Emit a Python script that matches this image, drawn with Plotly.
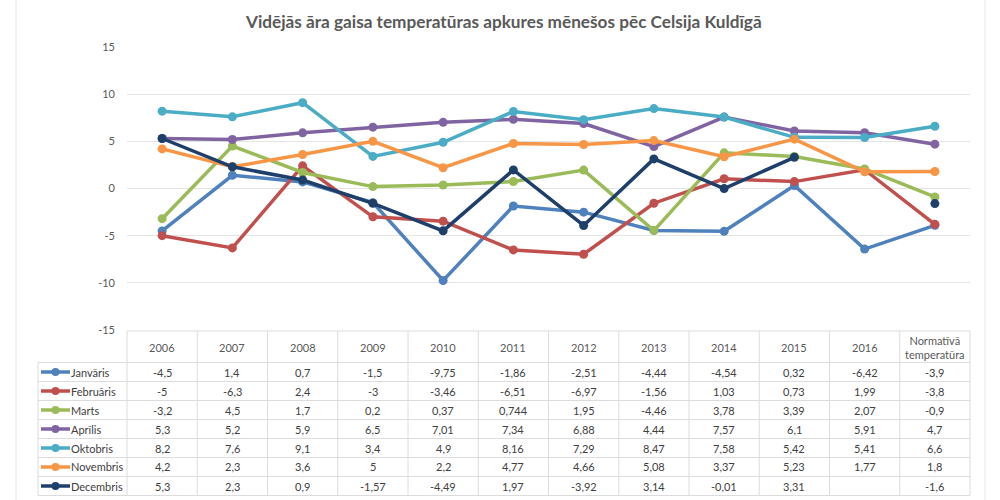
import plotly.graph_objects as go

years = ["2006", "2007", "2008", "2009", "2010", "2011", "2012", "2013", "2014", "2015", "2016", "Normatīvā<br>temperatūra"]
months = ["Janvāris", "Februāris", "Marts", "Aprīlis", "Oktobris", "Novembris", "Decembris"]

janvaris = [-4.5, 1.4, 0.7, -1.5, -9.75, -1.86, -2.51, -4.44, -4.54, 0.32, -6.42, -3.9]
februaris = [-5, -6.3, 2.4, -3, -3.46, -6.51, -6.97, -1.56, 1.03, 0.73, 1.99, -3.8]
marts = [-3.2, 4.5, 1.7, 0.2, 0.37, 0.744, 1.95, -4.46, 3.78, 3.39, 2.07, -0.9]
aprilis = [5.3, 5.2, 5.9, 6.5, 7.01, 7.34, 6.88, 4.44, 7.57, 6.1, 5.91, 4.7]
oktobris = [8.2, 7.6, 9.1, 3.4, 4.9, 8.16, 7.29, 8.47, 7.58, 5.42, 5.41, 6.6]
novembris = [4.2, 2.3, 3.6, 5, 2.2, 4.77, 4.66, 5.08, 3.37, 5.23, 1.77, 1.8]
decembris = [5.3, 2.3, 0.9, -1.57, -4.49, 1.97, -3.92, 3.14, -0.01, 3.31, None, -1.6]

series = [janvaris, februaris, marts, aprilis, oktobris, novembris, decembris]
colors = ["#4F81BD", "#C0504D", "#9BBB59", "#8064A2", "#4BACC6", "#F79646", "#1F3F6B"]

title = "Vidējās āra gaisa temperatūras apkures mēnešos pēc Celsija Kuldīgā"

W, H = 1000, 500
L, R, T, B = 127, 970, 47, 330  # plot area pixel bounds
pw, ph = R - L, B - T

def px(x):
    return (x - L) / pw

def py(y):
    return (B - y) / ph

fig = go.Figure()
xs = list(range(len(years)))
for name, vals, c in zip(months, series, colors):
    fig.add_trace(go.Scatter(
        x=xs, y=vals, name=name, mode="lines+markers",
        line=dict(color=c, width=3.5), marker=dict(color=c, size=9),
        connectgaps=False, showlegend=False,
    ))

def fmt(v):
    if v is None:
        return ""
    s = ("%g" % v)
    return s.replace(".", ",")

shapes = []
ann = []
grid = "#DCDCDC"
txt = "#404040"
colw = pw / len(years)
header_top, header_bot = 331, 362.5
rowh = 19
leg_left = 38
table_bot = header_bot + rowh * len(months)

shapes.append(dict(type="line", xref="paper", yref="paper", x0=px(L), x1=px(R), y0=py(header_top), y1=py(header_top), line=dict(color=grid, width=1)))
for i in range(len(months) + 1):
    y = header_bot + rowh * i
    shapes.append(dict(type="line", xref="paper", yref="paper", x0=px(leg_left), x1=px(R), y0=py(y), y1=py(y), line=dict(color=grid, width=1)))
for k in range(len(years) + 1):
    x = L + colw * k
    shapes.append(dict(type="line", xref="paper", yref="paper", x0=px(x), x1=px(x), y0=py(header_top), y1=py(table_bot), line=dict(color=grid, width=1)))
shapes.append(dict(type="line", xref="paper", yref="paper", x0=px(leg_left), x1=px(leg_left), y0=py(header_bot), y1=py(table_bot), line=dict(color=grid, width=1)))
for fx in (16, 985):
    shapes.append(dict(type="line", xref="paper", yref="paper", x0=px(fx), x1=px(fx), y0=py(0), y1=py(H), line=dict(color="#E6E6E6", width=1)))

font = "Lato"
fs = 11
for k, yr in enumerate(years):
    ann.append(dict(xref="paper", yref="paper", x=px(L + colw * (k + 0.5)), y=py((header_top + header_bot) / 2 + 1),
                    text=yr, showarrow=False, font=dict(family=font, size=fs, color="#595959"), xanchor="center", yanchor="middle"))

for i, (name, vals, c) in enumerate(zip(months, series, colors)):
    yc = header_bot + rowh * (i + 0.5)
    shapes.append(dict(type="line", xref="paper", yref="paper", x0=px(41), x1=px(70), y0=py(yc), y1=py(yc), line=dict(color=c, width=3.5)))
    shapes.append(dict(type="circle", xref="paper", yref="paper", x0=px(51.5), x1=px(59.5), y0=py(yc + 4), y1=py(yc - 4), fillcolor=c, line=dict(color=c, width=0)))
    ann.append(dict(xref="paper", yref="paper", x=px(69), y=py(yc), text=name, showarrow=False,
                    font=dict(family=font, size=fs, color=txt), xanchor="left", yanchor="middle"))
    for k, v in enumerate(vals):
        ann.append(dict(xref="paper", yref="paper", x=px(L + colw * (k + 0.5)), y=py(yc), text=fmt(v), showarrow=False,
                        font=dict(family=font, size=fs, color=txt), xanchor="center", yanchor="middle"))

ann.append(dict(xref="paper", yref="paper", x=px(503), y=py(21), text="<b>" + title + "</b>", showarrow=False,
                font=dict(family=font, size=17.2, color="#595959"), xanchor="center", yanchor="middle"))

fig.update_layout(
    width=W, height=H,
    margin=dict(l=L, r=W - R, t=T, b=H - B),
    paper_bgcolor="white", plot_bgcolor="white",
    shapes=shapes, annotations=ann,
    xaxis=dict(range=[-0.5, len(years) - 0.5], showticklabels=False, showgrid=False, zeroline=False, showline=False, fixedrange=True),
    yaxis=dict(range=[-15, 15], tickvals=[-15, -10, -5, 0, 5, 10, 15], ticktext=["-15", "-10", "-5", "0", "5", "10", "15"],
               showgrid=True, gridcolor="#E4E4E4", gridwidth=1, zeroline=False, showline=False,
               tickfont=dict(family=font, size=fs, color="#595959"), ticklabelstandoff=11),
    showlegend=False,
)

fig.write_html("out.html", config={"displayModeBar": False},
               post_script="document.body.style.margin='0';document.body.style.overflow='hidden';")
